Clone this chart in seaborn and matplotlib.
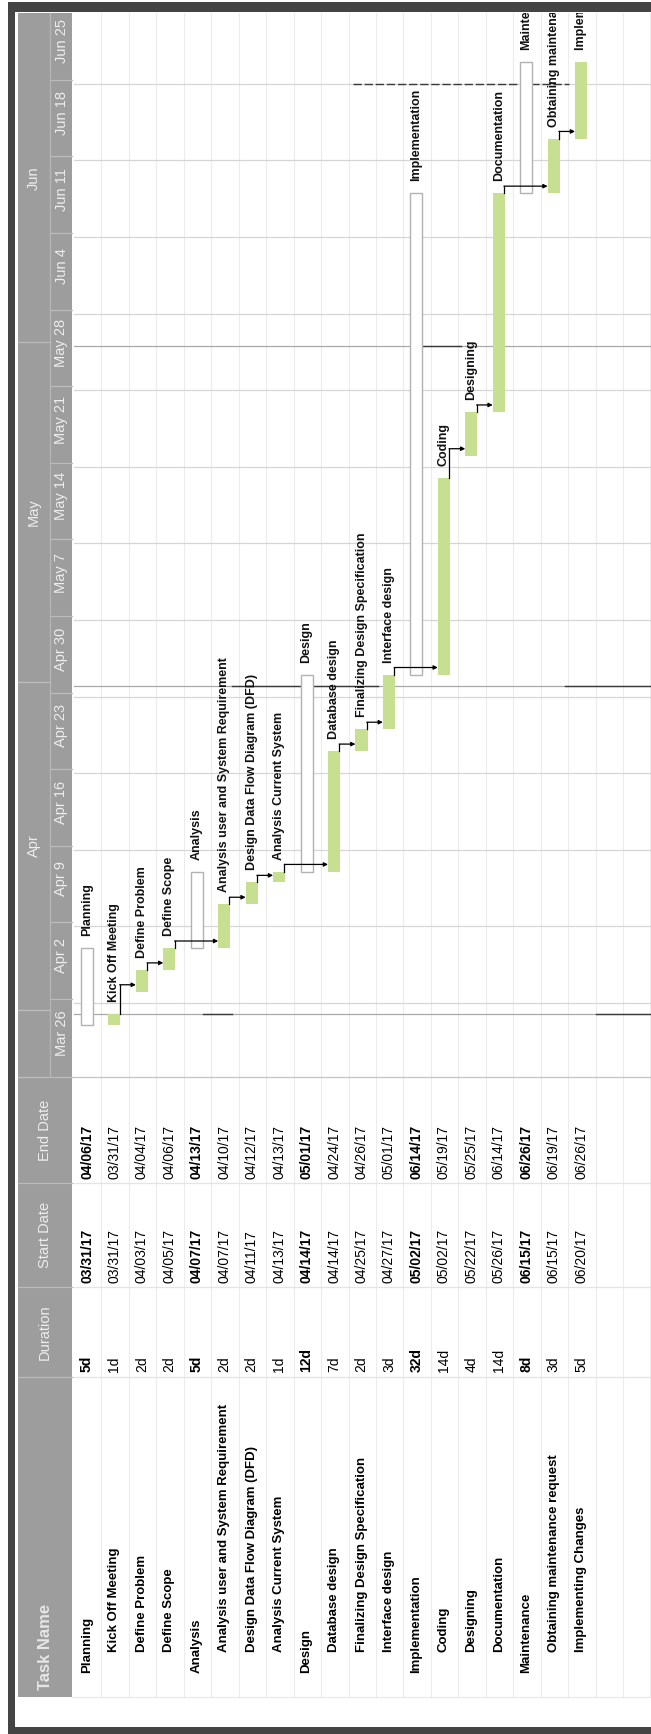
import numpy as np
import pandas as pd
import matplotlib
matplotlib.use("Agg")
import matplotlib.pyplot as plt
import seaborn as sns
from matplotlib.patches import Rectangle

# ---------------- data ----------------
task_names = ["Planning", "Kick Off Meeting", "Define Problem", "Define Scope", "Analysis",
              "Analysis user and System Requirement", "Design Data Flow Diagram (DFD)",
              "Analysis Current System", "Design", "Database design",
              "Finalizing Design Specification", "Interface design", "Implementation",
              "Coding", "Designing", "Documentation", "Maintenance",
              "Obtaining maintenance request", "Implementing Changes"]
is_summary = [True, False, False, False, True, False, False, False, True, False,
              False, False, True, False, False, False, True, False, False]
durations = ["5d", "1d", "2d", "2d", "5d", "2d", "2d", "1d", "12d", "7d", "2d", "3d",
             "32d", "14d", "4d", "14d", "8d", "3d", "5d"]
start_dates = ["03/31/17", "03/31/17", "04/03/17", "04/05/17", "04/07/17", "04/07/17",
               "04/11/17", "04/13/17", "04/14/17", "04/14/17", "04/25/17", "04/27/17",
               "05/02/17", "05/02/17", "05/22/17", "05/26/17", "06/15/17", "06/15/17",
               "06/20/17"]
end_dates = ["04/06/17", "03/31/17", "04/04/17", "04/06/17", "04/13/17", "04/10/17",
             "04/12/17", "04/13/17", "05/01/17", "04/24/17", "04/26/17", "05/01/17",
             "06/14/17", "05/19/17", "05/25/17", "06/14/17", "06/26/17", "06/19/17",
             "06/26/17"]
links = [(1, 2), (2, 3), (3, 5), (5, 6), (6, 7), (7, 9), (9, 10), (10, 11),
         (11, 13), (13, 14), (14, 15), (15, 17), (17, 18)]
week_labels = ["Mar 26", "Apr 2", "Apr 9", "Apr 16", "Apr 23", "Apr 30", "May 7",
               "May 14", "May 21", "May 28", "Jun 4", "Jun 11", "Jun 18", "Jun 25"]
month_labels = ["Apr", "May", "Jun"]
month_starts = ["04/01/17", "05/01/17", "06/01/17"]
header_labels = ["Task Name", "Duration", "Start Date", "End Date"]

# ---------------- derived ----------------
origin = pd.to_datetime(week_labels[0] + " 2017", format="%b %d %Y")
s = pd.to_datetime(pd.Series(start_dates), format="%m/%d/%y")
e = pd.to_datetime(pd.Series(end_dates), format="%m/%d/%y")
start_off = (s - origin).dt.days.to_numpy().astype(float)
end_off = ((e - origin).dt.days + 1).to_numpy().astype(float)
df = pd.DataFrame({"task": task_names, "start": start_off,
                   "span": end_off - start_off, "summary": is_summary})
month_off = (pd.to_datetime(pd.Series(month_starts), format="%m/%d/%y") - origin).dt.days.to_numpy()
week_off = np.arange(len(week_labels)) * 7

# ---------------- geometry (pixels) ----------------
W, H = 651, 1734
Y0, PPD = 1079.4, 10.94          # pixel y of day 0, pixels per day
RX0, RW = 87.0, 27.45            # first row centre, row width
CH_L, CH_T, CH_B = 74, 13, 1077  # chart area left / top / bottom


def py(d):
    return Y0 - PPD * d


def rx(i):
    return RX0 + RW * i


plt.rcParams["font.family"] = ["Liberation Sans", "DejaVu Sans"]
fig = plt.figure(figsize=(W / 100, H / 100), dpi=100, facecolor="white")

# background / table axes in pixel space
bg = fig.add_axes([0, 0, 1, 1], zorder=0)
bg.set_xlim(0, W)
bg.set_ylim(H, 0)
bg.axis("off")

# row separators
for k in range(1, 22):
    x = CH_L + RW * k
    bg.plot([x, x], [CH_T, 1697], color="#ececec", lw=0.8, zorder=1)
# table column lines
for yy, c in [(CH_B, "#c4c4c4"), (1183, "#e4e4e4"), (1287, "#e4e4e4"),
              (1377, "#e4e4e4"), (1697, "#e8e8e8")]:
    bg.plot([72, W], [yy, yy], color=c, lw=0.9, zorder=1)

# header block
bg.add_patch(Rectangle((18, CH_T), 54, 1697 - CH_T, facecolor="#9d9d9d",
                       edgecolor="none", zorder=2))
bg.plot([50, 50], [CH_T, CH_B], color="#b6b6b6", lw=0.9, zorder=3)
hdr_shift = -4
wk_bounds = [CH_B] + [py(d) + hdr_shift for d in week_off[1:]] + [CH_T]
for yb in wk_bounds[1:-1]:
    bg.plot([50, 72], [yb, yb], color="#bcbcbc", lw=0.9, zorder=3)
for k, lab in enumerate(week_labels):
    yc = (wk_bounds[k] + wk_bounds[k + 1]) / 2 - 5
    bg.text(61.5, yc, lab, rotation=90, ha="center", va="center", fontsize=10.5,
            color="#ededed", zorder=4)
mo_bounds = [py(d) + hdr_shift for d in month_off] + [CH_T]
for yb in mo_bounds[:-1]:
    bg.plot([18, 50], [yb, yb], color="#bcbcbc", lw=0.9, zorder=3)
for k, lab in enumerate(month_labels):
    yc = (mo_bounds[k] + mo_bounds[k + 1]) / 2
    bg.text(34, yc, lab, rotation=90, ha="center", va="center", fontsize=10.5,
            color="#ededed", zorder=4)
for yb in [CH_B, 1183, 1287, 1377]:
    bg.plot([18, 72], [yb, yb], color="#bcbcbc", lw=0.9, zorder=3)
bg.text(45, 1690, header_labels[0], rotation=90, ha="center", va="bottom",
        fontsize=12, fontweight="bold", color="#e6e6e6", zorder=4)
for lab, yc in zip(header_labels[1:], [1332, 1235, 1130]):
    bg.text(45, yc, lab, rotation=90, ha="center", va="center", fontsize=10.5,
            color="#ededed", zorder=4)

# table body: durations and dates
for i in range(len(task_names)):
    x = rx(i)
    w_sum = "bold" if is_summary[i] else "normal"
    bg.text(x, 1372, durations[i], rotation=90, ha="center", va="bottom",
            fontsize=10, fontweight=w_sum, zorder=4)
    bg.text(x, 1283, start_dates[i], rotation=90, ha="center", va="bottom",
            fontsize=10, fontweight=w_sum, zorder=4)
    bg.text(x, 1179, end_dates[i], rotation=90, ha="center", va="bottom",
            fontsize=10, fontweight=w_sum, zorder=4)

# task-name column (clipped to its cell area)
tn = fig.add_axes([72 / W, 1 - 1697 / H, (W - 72) / W, (1697 - 1379) / H], zorder=2)
tn.set_xlim(72, W)
tn.set_ylim(1697, 1379)
tn.axis("off")
for i in range(len(task_names)):
    tn.text(rx(i), 1673 if is_summary[i] else 1652, task_names[i], rotation=90,
            ha="center", va="bottom", fontsize=9.5, fontweight="bold",
            clip_on=True)

# dark frame (scan border)
fc = "#444444"
bg.add_patch(Rectangle((8, 2), W - 8, 10, facecolor=fc, edgecolor="none", zorder=5))
bg.add_patch(Rectangle((8, 2), 7, H - 2, facecolor=fc, edgecolor="none", zorder=5))
bg.add_patch(Rectangle((8, 1727), W - 8, 7, facecolor=fc, edgecolor="none", zorder=5))

# ---------------- Gantt axes ----------------
ax = fig.add_axes([CH_L / W, 1 - CH_B / H, (W - CH_L) / W, (CH_B - CH_T) / H], zorder=1)
ax.set_facecolor("none")

for d in week_off[1:]:
    ax.axhline(d, color="#d6d6d6", lw=0.9, zorder=0)
for d in month_off:
    ax.axhline(d, color="#a8a8a8", lw=0.9, zorder=0)


def xr(px):
    return (px - RX0) / RW


# scanned dark fragments of the month / week lines
for d, segs in [(month_off[0], [(203, 232), (596, 651)]),
                (month_off[1], [(232, 378), (565, 651)]),
                (month_off[2], [(421, 461)]),
                (91, [(353, 569)])]:
    for a, b in segs:
        ax.plot([xr(a), xr(b)], [d, d], color="#3a3a3a", lw=1.0,
                ls=(0, (6, 2)) if d == 91 else "-", zorder=0.5)

leaf = df[~df["summary"]]
summ = df[df["summary"]]
sns.barplot(data=leaf, x="task", y="span", order=task_names, ax=ax,
            bottom=leaf["start"].to_numpy(), color="#c6df90", saturation=1,
            width=0.44, errorbar=None, linewidth=0, zorder=2)
sns.barplot(data=summ, x="task", y="span", order=task_names, ax=ax,
            bottom=summ["start"].to_numpy(), color="white", saturation=1,
            width=0.44, errorbar=None, edgecolor="#b2b2b2", linewidth=1.0, zorder=2)

# dependency connectors
hw = 0.22
for a, b in links:
    xa = a + hw - 0.03
    yb = start_off[b] + 0.65
    ax.plot([xa, xa], [end_off[a], yb], color="black", lw=0.9, zorder=3)
    ax.annotate("", xy=(b - hw, yb), xytext=(xa, yb),
                arrowprops=dict(arrowstyle="-|>", color="black", lw=0.9,
                                mutation_scale=6, shrinkA=0, shrinkB=0), zorder=3)

# bar labels (clipped at the top of the timescale, as in the print)
for i, name in enumerate(task_names):
    ax.text(i, end_off[i] + 1.1, name, rotation=90, ha="center", va="bottom",
            fontsize=9, fontweight="bold", color="#111111", clip_on=True, zorder=4)

ax.set_xlim(xr(CH_L), xr(W))
ax.set_ylim((Y0 - CH_B) / PPD, (Y0 - CH_T) / PPD)
ax.set_xticks([])
ax.set_yticks([])
ax.set_xlabel("")
ax.set_ylabel("")
for sp in ax.spines.values():
    sp.set_visible(False)

fig.savefig("out.png", dpi=100, facecolor="white")
